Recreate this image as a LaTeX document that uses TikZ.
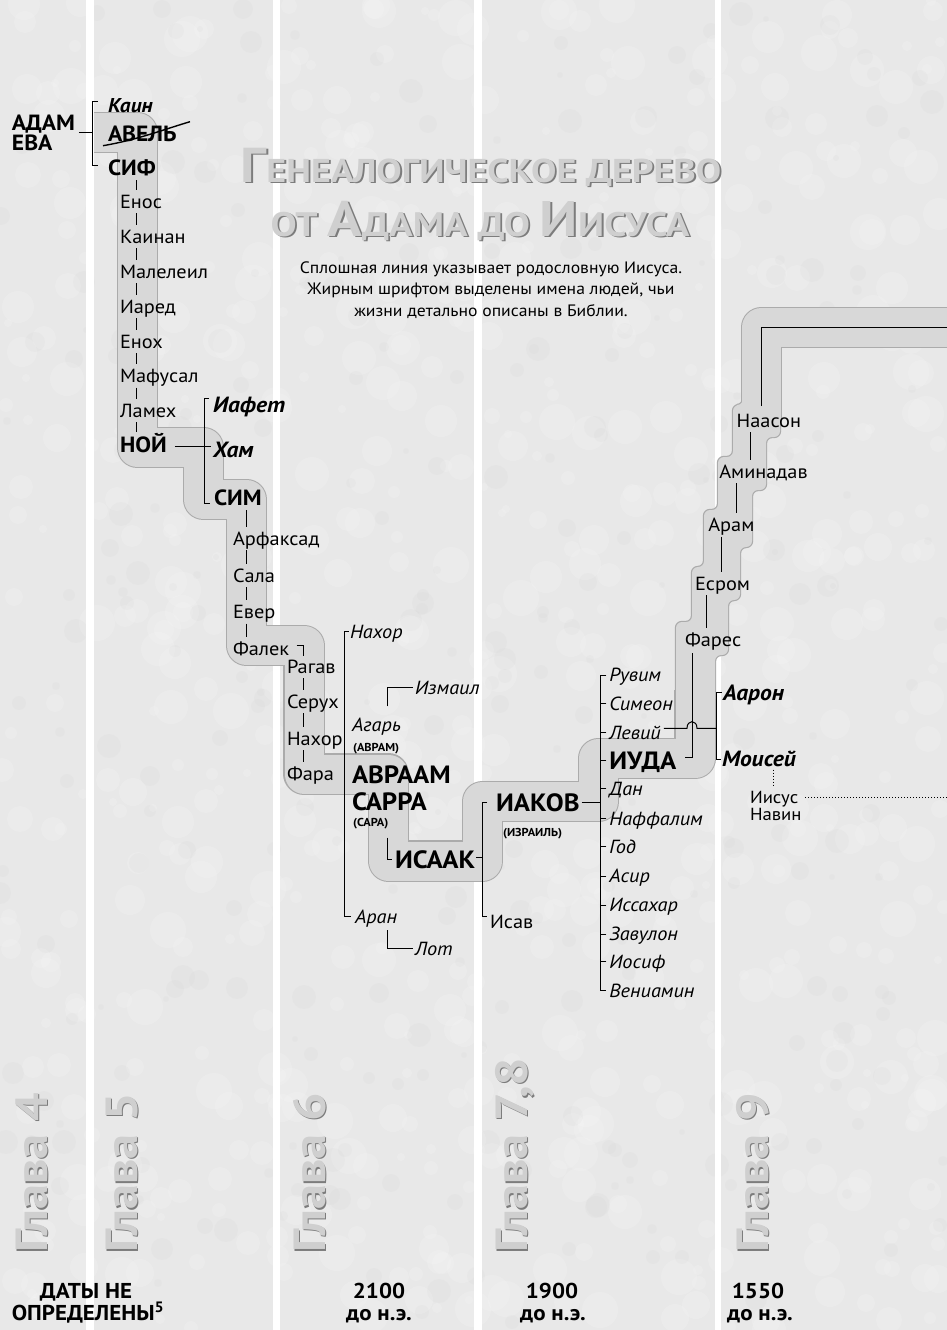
\documentclass[tikz,border=0pt]{standalone}
\usepackage{fontspec}
\setmainfont{PT Sans}[FakeStretch=1.07]
\newfontfamily\titlefont{PT Sans}[FakeStretch=1.15]
\newfontfamily\chapfont{PT Sans}[FakeStretch=1.12]
\usetikzlibrary{calc}
\definecolor{bg}{HTML}{E8E8E8}
\definecolor{band}{HTML}{D8D8D8}
\definecolor{bandedge}{HTML}{ABABAB}
\definecolor{emb}{HTML}{CFCFCF}
\definecolor{embsh}{HTML}{7C7C7C}
\newcommand\fs[1]{\fontsize{#1}{#1}\selectfont}
\newcommand\gtick[3]{\path #3 coordinate (tk); \draw[conn,shorten <=5pt,shorten >=5pt] (#1.south -| tk) -- (#2.north -| tk);}
\begin{document}
\begin{tikzpicture}[x=1pt,y=-1pt,
 nm/.style={inner sep=0pt, outer sep=0pt, anchor=base west, text height=13.3pt, text depth=0pt, font=\fs{19}},
 nmi/.style={nm, font=\fs{19}\itshape},
 nmb/.style={nm, text height=15.4pt, font=\fs{22}\bfseries},
 nmbi/.style={nmb, font=\fs{22}\bfseries\itshape},
 nmB/.style={nm, text height=17.5pt, font=\fs{25}\bfseries},
 nsm/.style={nm, text height=8pt, font=\fs{11.5}\bfseries},
 conn/.style={draw=black, line width=1pt},
 dotconn/.style={draw=black, line width=1pt, dash pattern=on 1pt off 2pt},
 bandout/.style={draw=bandedge, line width=41.5pt, line join=round},
 bandin/.style={draw=band, line width=39pt, line join=round},
 ttl/.style={inner sep=0pt, anchor=base, font=\titlefont\bfseries},
 chap/.style={inner sep=0pt, anchor=base west, rotate=90, font=\chapfont\fs{45}\bfseries},
 date/.style={inner sep=0pt, anchor=base, font=\fs{21.5}\bfseries},
 sub/.style={inner sep=0pt, anchor=base, font=\fs{16.5}}
]
\useasboundingbox (0,0) rectangle (947,1330);
% background
\begin{scope}
\clip (0,0) rectangle (947,1330);
\fill[bg] (0,0) rectangle (947,1330);
\pgfmathsetseed{7}
\foreach \i in {1,...,700}{
  \pgfmathsetmacro\bx{random(0,947)}
  \pgfmathsetmacro\by{random(0,1330)}
  \pgfmathsetmacro\br{random(4,18)}
  \fill[white,opacity=0.15] (\bx,\by) circle (\br);
}
\foreach \i in {1,...,300}{
  \pgfmathsetmacro\bx{random(0,947)}
  \pgfmathsetmacro\by{random(0,1330)}
  \pgfmathsetmacro\br{random(3,12)}
  \fill[black!25,opacity=0.08] (\bx,\by) circle (\br);
}
\fill[white] (86,0) rectangle (94,1330);
\fill[white] (273,0) rectangle (280,1330);
\fill[white] (474,0) rectangle (482,1330);
\fill[white] (715,0) rectangle (721,1330);
\end{scope}
% band
\def\mainband{(94,132.5) -- (137.5,132.5) -- (137.5,447.5) -- (203.5,447.5) -- (203.5,499.5) -- (246.5,499.5) -- (246.5,645.5) -- (304,645.5) -- (304,774) -- (388.5,774) -- (388.5,861) -- (482.5,861) -- (482.5,801.5) -- (598.5,801.5) -- (598.5,758.5) -- (695,758.5) -- (695,690)}
\def\topband{(761.5,420) -- (761.5,327.5) -- (965,327.5)}
\def\stair{(743,390) -- (780,390) -- (780,437) -- (766,437) -- (766,490) -- (752,490) -- (752,547) -- (740,547) -- (740,600) -- (728,600) -- (728,655) -- (715,655) -- (715,705) -- (676,705) -- (676,622) -- (692,622) -- (692,567) -- (704,567) -- (704,510) -- (718,510) -- (718,457) -- (733,457) -- (733,405) -- (743,405) -- cycle}
\draw[bandout] \mainband;
\draw[bandout] \topband;
\path[draw=bandedge, line width=2.4pt, fill=band, rounded corners=6pt] \stair;
\draw[bandin] \mainband;
\draw[bandin] \topband;
\path[fill=band, rounded corners=6pt] \stair;

% title
\node[ttl, text=embsh] (t1s) at (482.8,183.8) {\fs{49}Г\fs{33}ЕНЕАЛОГИЧЕСКОЕ ДЕРЕВО};
\node[ttl, text=emb] (t1) at (481,182) {\fs{49}Г\fs{33}ЕНЕАЛОГИЧЕСКОЕ ДЕРЕВО};
\node[ttl, text=embsh] (t2s) at (481.8,237.8) {\fs{34}ОТ \fs{50}А\fs{34}ДАМА ДО \fs{50}И\fs{34}ИСУСА};
\node[ttl, text=emb] (t2) at (480,236) {\fs{34}ОТ \fs{50}А\fs{34}ДАМА ДО \fs{50}И\fs{34}ИСУСА};
\node[sub] (s1) at (491,273) {Сплошная линия указывает родословную Иисуса.};
\node[sub] (s2) at (491,294.5) {Жирным шрифтом выделены имена людей, чьи};
\node[sub] (s3) at (491,316) {жизни детально описаны в Библии.};

% chapters
\node[chap, text=embsh] (c4s) at (48.5,1254.5) {Глава 4};
\node[chap, text=emb] (c4) at (47,1253) {Глава 4};
\node[chap, text=embsh] (c5s) at (138.5,1254.5) {Глава 5};
\node[chap, text=emb] (c5) at (137,1253) {Глава 5};
\node[chap, text=embsh] (c6s) at (326.5,1254.5) {Глава 6};
\node[chap, text=emb] (c6) at (325,1253) {Глава 6};
\node[chap, text=embsh] (c7s) at (528.5,1254.5) {Глава 7,8};
\node[chap, text=emb] (c7) at (527,1253) {Глава 7,8};
\node[chap, text=embsh] (c9s) at (769.5,1254.5) {Глава 9};
\node[chap, text=emb] (c9) at (768,1253) {Глава 9};

% dates
\node[date] (d1a) at (86,1298) {ДАТЫ НЕ};
\node[date] (d1b) at (88,1320) {ОПРЕДЕЛЕНЫ\textsuperscript{5}};
\node[date] (d2a) at (379,1298) {2100};
\node[date] (d2b) at (379,1320) {до н.э.};
\node[date] (d3a) at (552,1298) {1900};
\node[date] (d3b) at (553,1320) {до н.э.};
\node[date] (d4a) at (758,1298) {1550};
\node[date] (d4b) at (760,1320) {до н.э.};

% names
\node[nmb] (adam) at (12,130) {АДАМ};
\node[nmb] (eva) at (12,150) {ЕВА};
\node[nmbi, font=\fs{20}\bfseries\itshape, text height=14pt] (kain) at (108,112) {Каин};
\node[nmb] (avel) at (108,141.7) {АВЕЛЬ};
\node[nmb] (sif) at (108,175) {СИФ};
\node[nm] (enos) at (120,208.3) {Енос};
\node[nm] (kainan) at (120,243) {Каинан};
\node[nm] (malel) at (120,278) {Малелеил};
\node[nm] (iared) at (120,313) {Иаред};
\node[nm] (enoh) at (120,348) {Енох};
\node[nm] (mafus) at (120,382.5) {Мафусал};
\node[nm] (lameh) at (120,417) {Ламех};
\node[nmb] (noi) at (120,452) {НОЙ};
\node[nmbi] (iafet) at (213,412) {Иафет};
\node[nmbi] (ham) at (213,457) {Хам};
\node[nmb] (sim) at (214,505) {СИМ};
\node[nm] (arf) at (233,545) {Арфаксад};
\node[nm] (sala) at (233,582) {Сала};
\node[nm] (ever) at (233,618.5) {Евер};
\node[nm] (falek) at (233,655) {Фалек};
\node[nm] (ragav) at (287,673) {Рагав};
\node[nm] (seruh) at (287,708) {Серух};
\node[nm] (nahor) at (287,745) {Нахор};
\node[nm] (fara) at (287,780) {Фара};
\node[nmi] (nahor2) at (350,638) {Нахор};
\node[nmi] (izmail) at (415,694) {Измаил};
\node[nmi] (agar) at (352,731.7) {Агарь};
\node[nsm] (avram) at (353,751.7) {(АВРАМ)};
\node[nmB] (avraam) at (352,783.3) {АВРААМ};
\node[nmB] (sarra) at (352,810) {САРРА};
\node[nsm] (sara) at (353,826.7) {(САРА)};
\node[nmB] (isaak) at (395,868) {ИСААК};
\node[nmi] (aran) at (355,923) {Аран};
\node[nmi] (lot) at (415,955) {Лот};
\node[nmB] (iakov) at (496,811.7) {ИАКОВ};
\node[nsm] (izrail) at (503,836) {(ИЗРАИЛЬ)};
\node[nm] (isav) at (490,928) {Исав};
\node[nmi] (ruvim) at (609.3,681.7) {Рувим};
\node[nmi] (simeon) at (609.3,710) {Симеон};
\node[nmi] (levi) at (609.3,739) {Левий};
\node[nmB] (iuda) at (609.3,769.3) {ИУДА};
\node[nmi] (dan) at (609.3,795) {Дан};
\node[nmi] (naff) at (609.3,825) {Наффалим};
\node[nmi] (god) at (609.3,853.3) {Год};
\node[nmi] (asir) at (609.3,882.7) {Асир};
\node[nmi] (issah) at (609.3,911.7) {Иссахар};
\node[nmi] (zavul) at (609.3,940.7) {Завулон};
\node[nmi] (iosif) at (609.3,968.3) {Иосиф};
\node[nmi] (veniam) at (609.3,997.3) {Вениамин};
\node[nmbi] (aaron) at (723,700) {Аарон};
\node[nmbi] (moisei) at (722,766.7) {Моисей};
\node[nm, font=\fs{17.5}, text height=12.2pt] (iisus) at (750,803.3) {Иисус};
\node[nm, font=\fs{17.5}, text height=12.2pt] (navin) at (750,820) {Навин};
\node[nm] (fares) at (685,646.7) {Фарес};
\node[nm] (esrom) at (695,590) {Есром};
\node[nm] (aram) at (708.3,531.7) {Арам};
\node[nm] (amin) at (719.3,478.3) {Аминадав};
\node[nm] (naason) at (736.7,427.3) {Наасон};

% connectors: Adam
\coordinate (kb) at ($(kain.west)+(-15.7,0)$);
\draw[conn] ($(kain.west)+(-10.5,-4)$) -- ($(kain.west -| kb)+(0,-4)$) -- ($(sif.west -| kb)+(0,-2)$) -- ($(sif.west)+(-10.5,-2)$);
\draw[conn] ($(adam.south east)+(4,2)$) -- ($(kb |- adam.south)+(0,2)$);
\draw[line width=1.4pt] ($(avel.south west)+(-5,4)$) .. controls ($(avel.south west)+(30,-2)$) and ($(avel.south west)+(55,-12)$) .. ($(avel.south west)+(82,-20)$);
% Sif line
\gtick{sif}{enos}{([xshift=16.7pt]enos.north west)}
\gtick{enos}{kainan}{([xshift=16.7pt]kainan.north west)}
\gtick{kainan}{malel}{([xshift=16.7pt]malel.north west)}
\gtick{malel}{iared}{([xshift=16.7pt]iared.north west)}
\gtick{iared}{enoh}{([xshift=16.7pt]enoh.north west)}
\gtick{enoh}{mafus}{([xshift=16.7pt]mafus.north west)}
\gtick{mafus}{lameh}{([xshift=16.7pt]lameh.north west)}
\gtick{lameh}{noi}{([xshift=16.7pt]noi.north west)}
% Noah
\coordinate (nb) at ($(iafet.west)+(-9,0)$);
\draw[conn] ($(noi.east)+(8,2)$) -- ($(noi.east -| ham.west)+(-2,2)$);
\draw[conn] ($(iafet.west)+(-4,-6)$) -- ($(iafet.west -| nb)+(0,-6)$) -- ($(sim.west -| nb)+(0,6)$) -- ($(sim.west)+(-4,6)$);
\gtick{sim}{arf}{([xshift=13.7pt]arf.north west)}
\gtick{arf}{sala}{([xshift=13.7pt]sala.north west)}
\gtick{sala}{ever}{([xshift=13.7pt]ever.north west)}
\gtick{ever}{falek}{([xshift=13.7pt]falek.north west)}
\coordinate (fr) at ($(ragav.north west)+(16.6,0)$);
\draw[conn] ($(falek.east -| fr)+(-7,-3)$) -- ($(falek.east -| fr)+(0,-3)$) -- ($(fr)+(0,-4)$);
\gtick{ragav}{seruh}{([xshift=16.6pt]seruh.north west)}
\gtick{seruh}{nahor}{([xshift=16.6pt]nahor.north west)}
\gtick{nahor}{fara}{([xshift=16.6pt]fara.north west)}
% Terah's sons
\coordinate (tb) at ($(nahor2.west)+(-5.5,0)$);
\draw[conn] ($(nahor2.west)+(-1.5,0)$) -- (nahor2.west -| tb) -- (aran.west -| tb) -- ($(aran.west)+(-4,0)$);
\draw[conn] ($(agar.north west)+(35.5,-12)$) |- ($(izmail.west)+(-2.5,0)$);
\draw[conn] ($(aran.south west)+(32.3,7)$) |- ($(lot.west)+(-2.5,0)$);
\draw[conn] ($(sara.south west)+(34.3,11)$) |- ($(isaak.west)+(-3,0)$);
% Isaac
\coordinate (isb) at ($(iakov.west)+(-13.3,0)$);
\draw[conn] ($(isaak.east)+(1,-2)$) -- ($(isaak.east -| isb)+(0,-2)$);
\draw[conn] ($(iakov.west)+(-8.8,0)$) -- (iakov.west -| isb) -- ($(isav.west -| isb)+(0,-5)$) -- ($(isav.west)+(-3,-5)$);
% Jacob's sons
\coordinate (sb) at ($(ruvim.west)+(-8.6,0)$);
\draw[conn] ($(iakov.east)+(2,0)$) -- (iakov.east -| sb);
\draw[conn] ($(ruvim.west)+(-3,0)$) -- (ruvim.west -| sb) -- (veniam.west -| sb) -- ($(veniam.west)+(-3,0)$);
\foreach \s in {simeon,levi,iuda,dan,naff,god,asir,issah,zavul,iosif}{
  \draw[conn] ($(\s.west)+(-3,0)$) -- (\s.west -| sb);
}
% Judah, Levi
\coordinate (jx) at ($(fares.south west)+(7,0)$);
\coordinate (amb) at ($(aaron.west)+(-6.5,0)$);
\draw[conn] ($(iuda.east -| jx)+(-7,-3)$) -- ($(iuda.east -| jx)+(0,-3)$) -- ($(fares.south -| jx)+(0,6)$);
\coordinate (lv) at ($(levi.east)+(3,-4)$);
\draw[conn] (lv) -- ($(lv -| jx)+(-5,0)$) .. controls ($(lv -| jx)+(-5,-9)$) and ($(lv -| jx)+(5,-9)$) .. ($(lv -| jx)+(5,0)$) -- (lv -| amb);
\draw[conn] ($(aaron.west)+(-1.5,0)$) -- (aaron.west -| amb) -- (moisei.west -| amb) -- ($(moisei.west)+(-1,0)$);
\coordinate (mdot) at ($(moisei.south west)+(51.6,3)$);
\draw[dotconn] (mdot) -- ($(mdot |- iisus.north)+(0,-5)$);
\coordinate (jend) at (947,799.3);
\draw[dotconn] ($(iisus.east)+(7,0)$) -- (iisus.east -| jend);
% Perez line
\gtick{esrom}{fares}{([xshift=11.7pt]esrom.north west)}
\gtick{aram}{esrom}{([xshift=13.4pt]aram.north west)}
\gtick{amin}{aram}{([xshift=17.4pt]amin.north west)}
\gtick{naason}{amin}{([xshift=13.3pt]naason.north west)}
\coordinate (topend) at (947,327.5);
\draw[conn] ($(naason.north west)+(25,-8)$) |- (topend);
\end{tikzpicture}
\end{document}
